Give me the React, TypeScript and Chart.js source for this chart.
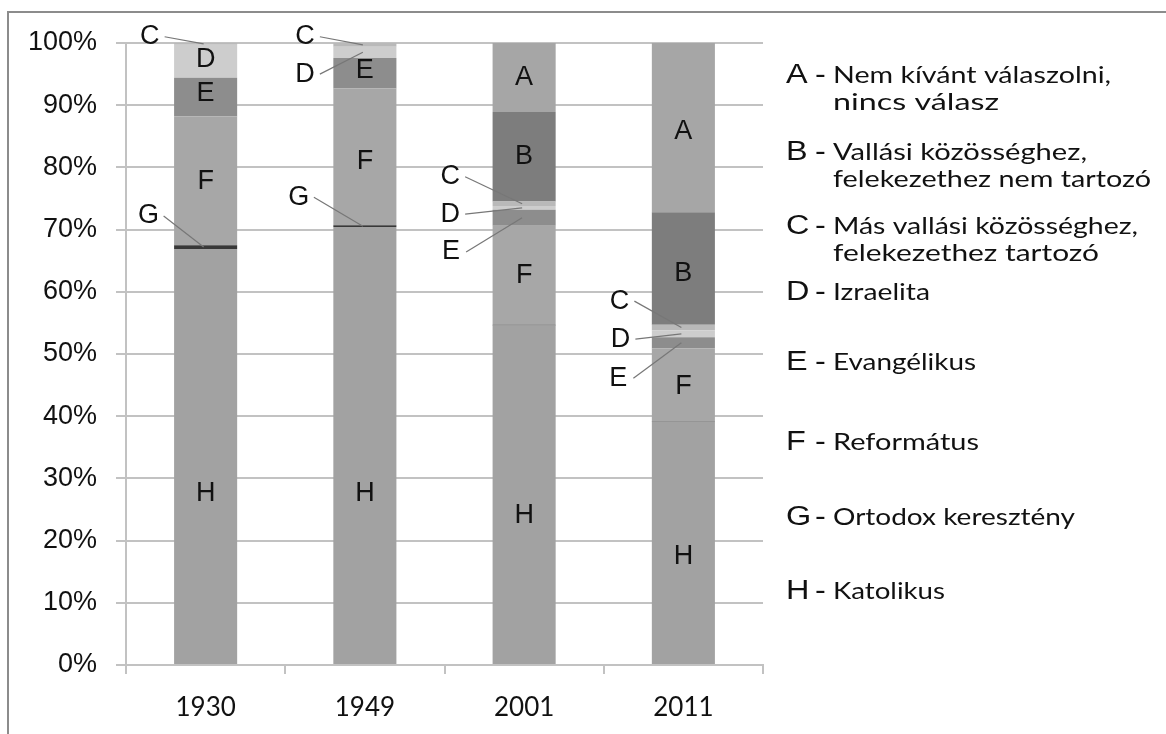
import React, { useEffect, useRef } from 'react';
import { Chart, registerables } from 'chart.js';

Chart.register(...registerables);

// ---- data ----
const categories = ['1930', '1949', '2001', '2011'];
const seriesH = [66.9, 70.4, 54.6, 39.1]; // Katolikus
const seriesG = [0.6, 0.3, 0.1, 0.1]; // Ortodox keresztény
const seriesF = [20.7, 22.0, 15.9, 11.7]; // Református
const seriesE = [6.2, 4.9, 2.6, 1.8]; // Evangélikus
const seriesD = [5.3, 1.8, 0.6, 1.1]; // Izraelita
const seriesC = [0.3, 0.6, 0.7, 0.9]; // Más vallási
const seriesB = [0, 0, 14.4, 18.1]; // nem tartozó
const seriesA = [0, 0, 11.1, 27.2]; // nincs válasz
const yTickValues = [0, 10, 20, 30, 40, 50, 60, 70, 80, 90, 100];

const seriesLetters = ['H', 'G', 'F', 'E', 'D', 'C', 'B', 'A'];
const seriesValues = [seriesH, seriesG, seriesF, seriesE, seriesD, seriesC, seriesB, seriesA];

const legendLetters = ['A', 'B', 'C', 'D', 'E', 'F', 'G', 'H'];
const legendTexts = [
  ['Nem kívánt válaszolni,', 'nincs válasz'],
  ['Vallási közösséghez,', 'felekezethez nem tartozó'],
  ['Más vallási közösséghez,', 'felekezethez tartozó'],
  ['Izraelita'],
  ['Evangélikus'],
  ['Református'],
  ['Ortodox keresztény'],
  ['Katolikus'],
];

// ---- styling / layout ----
const seriesColors: Record<string, string> = {
  H: '#a2a2a2',
  G: '#383838',
  F: '#a7a7a7',
  E: '#8d8d8d',
  D: '#cdcdcd',
  C: '#b9b9b9',
  B: '#7d7d7d',
  A: '#a6a6a6',
};

// label annotations (letter centre, in axis units)
const inBarLabels = [
  { cat: 0, letter: 'D', at: 97.3 },
  { cat: 0, letter: 'E', at: 91.8 },
  { cat: 0, letter: 'F', at: 77.8 },
  { cat: 0, letter: 'H', at: 27.5 },
  { cat: 1, letter: 'E', at: 95.5 },
  { cat: 1, letter: 'F', at: 81.0 },
  { cat: 1, letter: 'H', at: 27.5 },
  { cat: 2, letter: 'A', at: 94.5 },
  { cat: 2, letter: 'B', at: 81.7 },
  { cat: 2, letter: 'F', at: 62.6 },
  { cat: 2, letter: 'H', at: 24.0 },
  { cat: 3, letter: 'A', at: 85.7 },
  { cat: 3, letter: 'B', at: 63.0 },
  { cat: 3, letter: 'F', at: 44.8 },
  { cat: 3, letter: 'H', at: 17.5 },
];

const outsideLabels = [
  { cat: 0, letter: 'C', dx: -56, at: 101.0 },
  { cat: 0, letter: 'G', dx: -57, at: 72.2 },
  { cat: 1, letter: 'C', dx: -60, at: 101.0 },
  { cat: 1, letter: 'D', dx: -60, at: 95.0 },
  { cat: 1, letter: 'G', dx: -66, at: 75.2 },
  { cat: 2, letter: 'C', dx: -74, at: 78.5 },
  { cat: 2, letter: 'D', dx: -74, at: 72.5 },
  { cat: 2, letter: 'E', dx: -73, at: 66.4 },
  { cat: 3, letter: 'C', dx: -64, at: 58.5 },
  { cat: 3, letter: 'D', dx: -63, at: 52.4 },
  { cat: 3, letter: 'E', dx: -65, at: 46.1 },
];

const legendY = [76, 153, 227, 293, 363, 443, 518, 592];
// rendered width of each legend text line (px)
const legendWidths = [[278, 166], [254, 318], [305, 266], [97], [143], [146], [242], [112]];

const W = 1166;
const H = 734;

const framePlugin = {
  id: 'frame',
  beforeDraw(chart: any) {
    const ctx = chart.ctx;
    ctx.save();
    ctx.fillStyle = '#ffffff';
    ctx.fillRect(0, 0, W, H);
    ctx.strokeStyle = '#8c8c8c';
    ctx.lineWidth = 2;
    ctx.beginPath();
    ctx.moveTo(8, H);
    ctx.lineTo(8, 12);
    ctx.lineTo(W, 12);
    ctx.stroke();
    ctx.restore();
  },
};

const annotationPlugin = {
  id: 'annot',
  afterDatasetsDraw(chart: any) {
    const ctx = chart.ctx;
    const ys = chart.scales.y;
    ctx.save();
    ctx.font = '27px "Liberation Sans", Arial, sans-serif';
    ctx.fillStyle = '#111111';
    ctx.textAlign = 'center';
    ctx.textBaseline = 'middle';
    for (const l of inBarLabels) {
      const el = chart.getDatasetMeta(0).data[l.cat];
      ctx.fillText(l.letter, el.x, ys.getPixelForValue(l.at));
    }
    ctx.strokeStyle = '#777777';
    ctx.lineWidth = 1.2;
    for (const l of outsideLabels) {
      const di = seriesLetters.indexOf(l.letter);
      const el = chart.getDatasetMeta(di).data[l.cat];
      const lx = el.x + l.dx;
      const ly = ys.getPixelForValue(l.at);
      ctx.fillText(l.letter, lx, ly);
      const ey = (el.y + el.base) / 2;
      ctx.beginPath();
      ctx.moveTo(lx + 15, ly);
      ctx.lineTo(el.x - 2, ey);
      ctx.stroke();
    }
    ctx.restore();
  },
  afterDraw(chart: any) {
    const ctx = chart.ctx;
    ctx.save();
    ctx.fillStyle = '#111111';
    ctx.textBaseline = 'middle';
    ctx.textAlign = 'left';
    legendLetters.forEach((letter, i) => {
      const y0 = legendY[i];
      ctx.save();
      ctx.translate(786, 0);
      ctx.scale(1.2, 1);
      ctx.font = '27px "Liberation Sans", Arial, sans-serif';
      ctx.fillText(letter, 0, y0);
      ctx.fillText('-', (815 - 786) / 1.2, y0);
      ctx.restore();
      legendTexts[i].forEach((t, j) => {
        ctx.save();
        ctx.font = '23px Lato, sans-serif';
        const w0 = ctx.measureText(t).width;
        const sx = legendWidths[i][j] / w0;
        ctx.translate(833, 0);
        ctx.scale(sx, 1);
        ctx.fillText(t, 0, y0 + j * 27);
        ctx.restore();
      });
    });
    ctx.restore();
  },
};

export default function App() {
  const ref = useRef<HTMLCanvasElement | null>(null);
  useEffect(() => {
    document.body.style.margin = '0';
    const canvas = ref.current;
    if (!canvas) return;
    const gridColor = '#c2c2c2';
    const chart = new Chart(canvas, {
      type: 'bar',
      data: {
        labels: categories,
        datasets: seriesLetters.map((letter, i) => ({
          label: letter,
          data: seriesValues[i],
          backgroundColor: seriesColors[letter],
          borderWidth: 0,
          barPercentage: 0.396,
          categoryPercentage: 1,
        })),
      },
      options: {
        animation: false,
        responsive: false,
        devicePixelRatio: 1,
        layout: { padding: { top: 43, right: W - 763, left: 0, bottom: 0 } },
        plugins: {
          legend: { display: false },
          tooltip: { enabled: false },
        },
        scales: {
          x: {
            stacked: true,
            grid: {
              display: true,
              drawOnChartArea: false,
              drawTicks: true,
              tickLength: 9,
              offset: true,
              color: gridColor,
              lineWidth: 2,
            },
            border: { display: true, color: gridColor, width: 2 },
            ticks: {
              color: '#111111',
              font: { family: 'Lato', size: 26 },
              padding: 18,
            },
            afterFit: (s: any) => {
              s.height = H - 665;
            },
          },
          y: {
            stacked: true,
            min: 0,
            max: 100,
            afterBuildTicks: (s: any) => {
              s.ticks = yTickValues.map((v) => ({ value: v }));
            },
            grid: {
              color: gridColor,
              lineWidth: 2,
              drawTicks: true,
              tickLength: 10,
            },
            border: { display: true, color: gridColor, width: 2 },
            ticks: {
              color: '#111111',
              font: { family: 'Liberation Sans', size: 27 },
              padding: 19,
              callback: (v: any) => v + '%',
            },
            afterFit: (s: any) => {
              s.width = 126;
            },
          },
        },
      },
      plugins: [framePlugin, annotationPlugin],
    });
    return () => chart.destroy();
  }, []);
  return (
    <div style={{ position: 'fixed', left: 0, top: 0, width: W, height: H, overflow: 'hidden', background: '#fff' }}>
      <canvas ref={ref} width={W} height={H} style={{ width: W, height: H, display: 'block' }} />
    </div>
  );
}
